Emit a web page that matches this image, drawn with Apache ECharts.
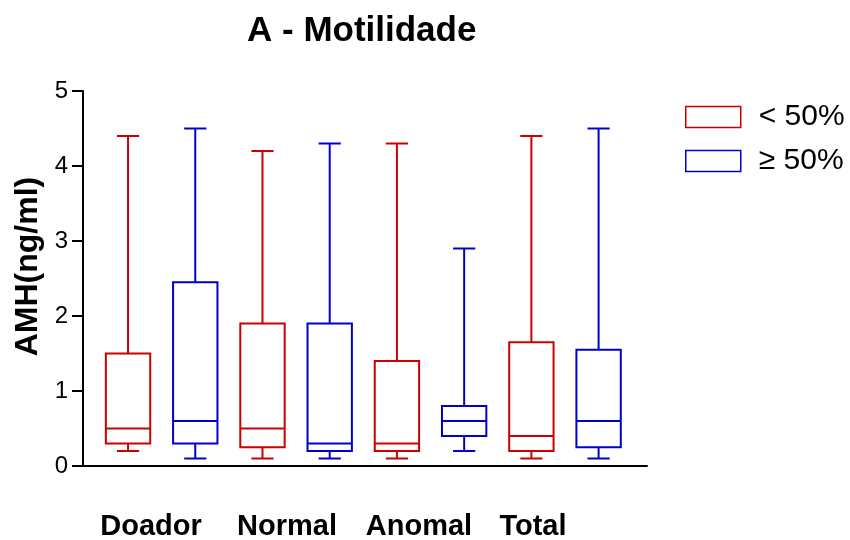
<!DOCTYPE html>
<html>
<head>
<meta charset="utf-8">
<script src="https://cdn.jsdelivr.net/npm/echarts@6/dist/echarts.min.js"></script>
<style>
  html, body { margin: 0; padding: 0; background: #fff; }
  #chart { width: 850px; height: 540px; }
</style>
</head>
<body>
<div id="chart"></div>
<script>
// Groups shown under the x axis
const groups = ['Doador', 'Normal', 'Anomal', 'Total'];
const seriesNames = ['< 50%', '\u2265 50%'];

// Five-number summaries per group: [min, Q1, median, Q3, max]
const motLow = [
  [0.2, 0.3, 0.5, 1.5, 4.4],
  [0.1, 0.25, 0.5, 1.9, 4.2],
  [0.1, 0.2, 0.3, 1.4, 4.3],
  [0.1, 0.2, 0.4, 1.65, 4.4]
];
const motHigh = [
  [0.1, 0.3, 0.6, 2.45, 4.5],
  [0.1, 0.2, 0.3, 1.9, 4.3],
  [0.2, 0.4, 0.6, 0.8, 2.9],
  [0.1, 0.25, 0.6, 1.55, 4.5]
];

const yTicks = [0, 1, 2, 3, 4, 5];

const RED = '#cc0000';
const BLUE = '#0000cc';
const FONT = 'Liberation Sans, Arial, sans-serif';

// Each group holds two boxes side by side: slot 2g (< 50%) and 2g+1 (>= 50%)
function toSlots(summaries, offset) {
  return summaries.map((s, g) => [2 * g + offset].concat(s));
}

function boxRenderer(color) {
  return function (params, api) {
    const x = api.value(0);
    const pMin = api.coord([x, api.value(1)]);
    const pQ1 = api.coord([x, api.value(2)]);
    const pMed = api.coord([x, api.value(3)]);
    const pQ3 = api.coord([x, api.value(4)]);
    const pMax = api.coord([x, api.value(5)]);
    const band = api.size([1, 0])[0];
    const half = band * 0.66 / 2;
    const cap = half / 2;
    const cx = pMed[0];
    const style = { stroke: color, lineWidth: 2, fill: null };
    const line = (x1, y1, x2, y2) => ({ type: 'line', shape: { x1, y1, x2, y2 }, style });
    return {
      type: 'group',
      children: [
        { type: 'rect', shape: { x: cx - half, y: pQ3[1], width: 2 * half, height: pQ1[1] - pQ3[1] }, style },
        line(cx - half, pMed[1], cx + half, pMed[1]),
        line(cx, pQ3[1], cx, pMax[1]),
        line(cx, pQ1[1], cx, pMin[1]),
        line(cx - cap, pMax[1], cx + cap, pMax[1]),
        line(cx - cap, pMin[1], cx + cap, pMin[1])
      ]
    };
  };
}

// Horizontal positions of the group captions under the axis
const captionX = [151, 287, 419, 533];

const chart = echarts.init(document.getElementById('chart'), null, { renderer: 'canvas' });
chart.setOption({
  animation: false,
  backgroundColor: '#fff',
  textStyle: { fontFamily: FONT },
  title: {
    text: 'A - Motilidade',
    left: 247,
    top: 14,
    padding: 0,
    textStyle: { fontSize: 35, fontWeight: 'bold', color: '#000', fontFamily: FONT }
  },
  legend: {
    orient: 'vertical',
    left: 685,
    top: 102,
    padding: 0,
    itemWidth: 55,
    itemHeight: 21,
    itemGap: 14,
    icon: 'rect',
    selectedMode: false,
    textStyle: { fontSize: 30, color: '#000', fontFamily: FONT, padding: [0, 0, 0, 13] },
    data: [
      { name: seriesNames[0], itemStyle: { color: '#fff', borderColor: RED, borderWidth: 1.5 } },
      { name: seriesNames[1], itemStyle: { color: '#fff', borderColor: BLUE, borderWidth: 1.5 } }
    ]
  },
  grid: { left: 83, right: 203, top: 91, bottom: 74 },
  xAxis: {
    type: 'value',
    min: -0.67,
    max: 7.72,
    axisLine: { show: true, lineStyle: { color: '#000', width: 2 } },
    axisTick: { show: false },
    axisLabel: { show: false },
    splitLine: { show: false }
  },
  yAxis: {
    type: 'value',
    min: yTicks[0],
    max: yTicks[yTicks.length - 1],
    interval: 1,
    name: 'AMH(ng/ml)',
    nameLocation: 'middle',
    nameRotate: 90,
    nameGap: 35,
    nameTextStyle: { fontSize: 32, fontWeight: 'bold', color: '#000', fontFamily: FONT, padding: [0, 0, 0, 24] },
    axisLine: { show: true, onZero: false, lineStyle: { color: '#000', width: 2 } },
    axisTick: { show: true, inside: false, length: 11, lineStyle: { color: '#000', width: 2 } },
    axisLabel: { fontSize: 24, color: '#000', margin: 15, fontFamily: FONT },
    splitLine: { show: false }
  },
  graphic: groups.map((g, i) => ({
    type: 'text',
    x: captionX[i],
    y: 527,
    style: {
      text: g,
      fontSize: 29,
      fontWeight: 'bold',
      fontFamily: FONT,
      fill: '#000',
      textAlign: 'center',
      textVerticalAlign: 'middle'
    }
  })),
  series: [
    {
      name: seriesNames[0],
      type: 'custom',
      itemStyle: { color: RED },
      renderItem: boxRenderer(RED),
      encode: { x: 0, y: [1, 2, 3, 4, 5] },
      data: toSlots(motLow, 0)
    },
    {
      name: seriesNames[1],
      type: 'custom',
      itemStyle: { color: BLUE },
      renderItem: boxRenderer(BLUE),
      encode: { x: 0, y: [1, 2, 3, 4, 5] },
      data: toSlots(motHigh, 1)
    }
  ]
});
</script>
</body>
</html>
